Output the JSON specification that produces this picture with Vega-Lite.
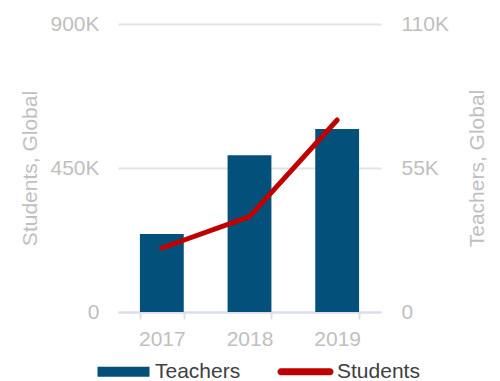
{
  "$schema": "https://vega.github.io/schema/vega-lite/v6.json",
  "width": 263,
  "height": 288,
  "autosize": {"type": "none"},
  "padding": {"left": 118, "top": 24, "right": 119, "bottom": 69},
  "background": "white",
  "config": {
    "view": {"stroke": null},
    "font": "Liberation Sans",
    "axis": {"labelFont": "Liberation Sans", "titleFont": "Liberation Sans", "labelFontSize": 21, "titleFontSize": 21, "labelColor": "#bfbfbf", "titleColor": "#bfbfbf", "titleFontWeight": "normal"}
  },
  "data": {
    "values": [
      {"year": "2017", "Teachers": 29800, "Students": 200000},
      {"year": "2018", "Teachers": 59900, "Students": 298000},
      {"year": "2019", "Teachers": 69900, "Students": 600000}
    ]
  },
  "encoding": {
    "x": {
      "field": "year", "type": "nominal",
      "scale": {"paddingInner": 0.5, "paddingOuter": 0.25},
      "axis": {"title": null, "labelAngle": 0, "tickBand": "extent", "tickSize": 7, "tickColor": "#d9dfe6", "tickWidth": 2, "domainColor": "#d9dfe6", "domainWidth": 2, "labelPadding": 9, "grid": false}
    }
  },
  "layer": [
    {
      "mark": {"type": "bar", "color": "#03517a"},
      "encoding": {
        "y": {
          "field": "Teachers", "type": "quantitative",
          "scale": {"domain": [0, 110000], "nice": false},
          "axis": {"orient": "right", "title": "Teachers, Global", "values": [0, 55000, 110000], "labelExpr": "datum.value == 0 ? '0' : (datum.value/1000) + 'K'", "grid": false, "ticks": false, "domain": false, "labelPadding": 20, "titleAngle": 270, "titleBaseline": "top", "titlePadding": 18}
        },
        "color": {
          "datum": "Teachers",
          "scale": {"domain": ["Teachers", "Students"], "range": ["#03517a", "#c00000"]},
          "legend": {
            "title": null,
            "orient": "none",
            "legendX": -5,
            "legendY": 337,
            "direction": "horizontal",
            "labelFont": "Liberation Sans",
            "labelFontSize": 21,
            "labelColor": "#404040",
            "labelOffset": 21,
            "columnPadding": 36,
            "symbolType": "M-5.2,-1H5.2V1H-5.2Z",
            "symbolSize": 100,
            "symbolStrokeWidth": 0,
            "encode": {
              "symbols": {
                "update": {
                  "fill": {"scale": "color", "field": "value"},
                  "fillOpacity": {"value": 1},
                  "stroke": {"value": "transparent"},
                  "strokeWidth": {"value": 0},
                  "size": {"value": 100},
                  "shape": {"signal": "datum.value === 'Students' ? 'M-4.9,-0.7H4.9A0.7,0.7 0 0 1 4.9,0.7H-4.9A0.7,0.7 0 0 1 -4.9,-0.7Z' : 'M-5.2,-1H5.2V1H-5.2Z'"}
                }
              }
            }
          }
        }
      }
    },
    {
      "mark": {"type": "line", "strokeWidth": 5, "strokeCap": "round", "strokeJoin": "round"},
      "encoding": {
        "y": {
          "field": "Students", "type": "quantitative",
          "scale": {"domain": [0, 900000], "nice": false},
          "axis": {"orient": "left", "title": "Students, Global", "values": [0, 450000, 900000], "labelExpr": "datum.value == 0 ? '0' : (datum.value/1000) + 'K'", "grid": true, "gridColor": "#dfe4eb", "gridWidth": 2, "ticks": false, "domain": false, "labelPadding": 19, "titlePadding": 9}
        },
        "color": {"datum": "Students"}
      }
    }
  ],
  "resolve": {"scale": {"y": "independent"}}
}
